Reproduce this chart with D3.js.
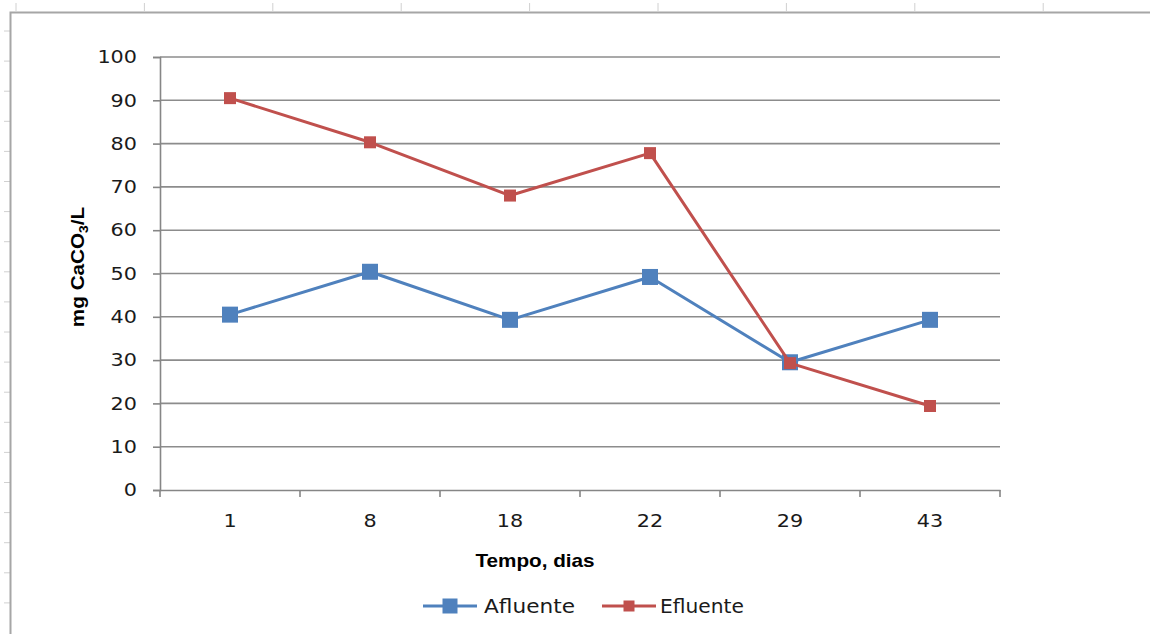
<!DOCTYPE html>
<html>
<head>
<meta charset="utf-8">
<script src="https://cdn.jsdelivr.net/npm/d3@7/dist/d3.min.js"></script>
<style>
html,body{margin:0;padding:0;background:#fff;}
svg{display:block;}
</style>
</head>
<body>
<svg id="chart" width="1150" height="634"></svg>
<script>
const categories = ["1", "8", "18", "22", "29", "43"];
const afluente = [40.5, 50.4, 39.3, 49.2, 29.5, 39.3];
const efluente = [90.5, 80.3, 68.0, 77.8, 29.3, 19.4];
const yTicks = [0, 10, 20, 30, 40, 50, 60, 70, 80, 90, 100];
const seriesNames = ["Afluente", "Efluente"];

const svg = d3.select("#chart");
const W = 1150, H = 634;

// spreadsheet background frame
const colTicks = d3.range(0, 9).map(i => 16 + i * 128.4);
const rowTicks = d3.range(0, 20).map(i => 31 + i * 30.1);
svg.append("g").selectAll("line").data(colTicks).join("line")
  .attr("x1", d => d).attr("x2", d => d).attr("y1", 3).attr("y2", 11)
  .attr("stroke", "#d0d0d0").attr("stroke-width", 1);
svg.append("g").selectAll("line").data(rowTicks).join("line")
  .attr("x1", 4).attr("x2", 10).attr("y1", d => d).attr("y2", d => d)
  .attr("stroke", "#d0d0d0").attr("stroke-width", 1);
svg.append("path")
  .attr("d", `M10.5,${H} L10.5,12.5 L${W},12.5`)
  .attr("fill", "none").attr("stroke", "#a6a6a6").attr("stroke-width", 2);

const x = d3.scaleBand().domain(categories).range([160, 1000]);
const y = d3.scaleLinear().domain([0, 100]).range([490, 57]);

const axisColor = "#868686";
const font = "'DejaVu Sans', Verdana, sans-serif";
const titleFont = "'Liberation Sans', Arial, sans-serif";
const digitW = 13.2;

// gridlines
svg.append("g").selectAll("line").data(yTicks.filter(d => d > 0)).join("line")
  .attr("x1", 160).attr("x2", 1000)
  .attr("y1", d => y(d)).attr("y2", d => y(d))
  .attr("stroke", "#8c8c8c").attr("stroke-width", 1.6);

// y axis
const yAxis = svg.append("g").attr("transform", "translate(160,0)")
  .call(d3.axisLeft(y).tickValues(yTicks).tickSize(7).tickPadding(16).tickFormat(d3.format("d")));
yAxis.select(".domain").attr("stroke", axisColor).attr("stroke-width", 1.6);
yAxis.selectAll(".tick line").attr("stroke", axisColor).attr("stroke-width", 1.6);
yAxis.selectAll("text").attr("font-family", font).attr("font-size", 18).attr("fill", "#1a1a1a")
  .attr("textLength", d => String(d).length * digitW).attr("lengthAdjust", "spacingAndGlyphs");

// x axis
const xAxis = svg.append("g").attr("transform", "translate(0,490)")
  .call(d3.axisBottom(x).tickSize(0).tickPadding(24));
xAxis.select(".domain").attr("stroke", axisColor).attr("stroke-width", 1.6);
xAxis.selectAll("text").attr("font-family", font).attr("font-size", 18).attr("fill", "#1a1a1a")
  .attr("textLength", d => String(d).length * digitW).attr("lengthAdjust", "spacingAndGlyphs");
const boundaries = categories.map(c => x(c)).concat([x.range()[1]]);
xAxis.append("g").selectAll("line").data(boundaries).join("line")
  .attr("x1", d => d).attr("x2", d => d).attr("y1", 0).attr("y2", 7)
  .attr("stroke", axisColor).attr("stroke-width", 1.6);

// axis titles
svg.append("text")
  .attr("transform", "translate(535,567) scale(1.15,1)")
  .attr("text-anchor", "middle")
  .attr("font-family", titleFont).attr("font-weight", "bold")
  .attr("font-size", 18).attr("fill", "#000")
  .text("Tempo, dias");

const yt = svg.append("text")
  .attr("transform", "translate(84,267) rotate(-90) scale(1.15,1)")
  .attr("text-anchor", "middle")
  .attr("font-family", titleFont).attr("font-weight", "bold")
  .attr("font-size", 18).attr("fill", "#000");
yt.append("tspan").text("mg CaCO");
yt.append("tspan").attr("font-size", 12).attr("dy", 4).text("3");
yt.append("tspan").attr("dy", -4).text("/L");

// series
const colors = ["#4f81bd", "#c0504d"];
const markerSize = [16, 12];
const data = [afluente, efluente];
const line = d3.line().x((d, i) => x(categories[i]) + x.bandwidth() / 2).y(d => y(d));

data.forEach((vals, s) => {
  const g = svg.append("g");
  g.append("path").attr("d", line(vals)).attr("fill", "none")
    .attr("stroke", colors[s]).attr("stroke-width", 3).attr("stroke-linejoin", "round");
  g.selectAll("rect").data(vals).join("rect")
    .attr("x", (d, i) => x(categories[i]) + x.bandwidth() / 2 - markerSize[s] / 2)
    .attr("y", d => y(d) - markerSize[s] / 2)
    .attr("width", markerSize[s]).attr("height", markerSize[s])
    .attr("fill", colors[s]);
});

// legend
const legendItems = [{x: 423, tx: 484, tw: 91}, {x: 602, tx: 660, tw: 84}];
legendItems.forEach((li, s) => {
  const g = svg.append("g");
  const ly = 606;
  g.append("line").attr("x1", li.x).attr("x2", li.x + 54).attr("y1", ly).attr("y2", ly)
    .attr("stroke", colors[s]).attr("stroke-width", 3);
  const ms = s === 0 ? 15 : 11;
  g.append("rect").attr("x", li.x + 27 - ms / 2).attr("y", ly - ms / 2)
    .attr("width", ms).attr("height", ms).attr("fill", colors[s]);
  g.append("text").attr("x", li.tx).attr("y", ly + 7)
    .attr("font-family", font).attr("font-size", 19).attr("fill", "#1a1a1a")
    .attr("textLength", li.tw).attr("lengthAdjust", "spacingAndGlyphs")
    .text(seriesNames[s]);
});
</script>
</body>
</html>
